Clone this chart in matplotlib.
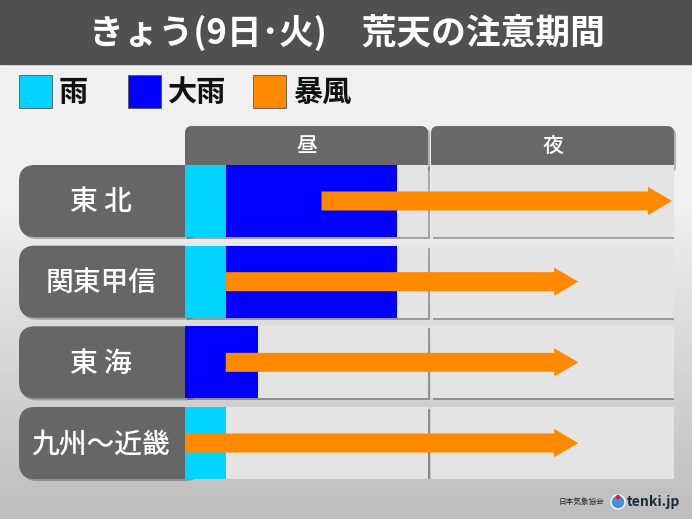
import matplotlib
matplotlib.use("Agg")
import matplotlib.pyplot as plt
import matplotlib.patheffects as pe
from matplotlib.patches import FancyBboxPatch, Rectangle, Circle
import numpy as np

plt.rcParams['font.family'] = ['Noto Sans CJK JP', 'DejaVu Sans']

# データ (時間: 0-12 = 昼, 12-24 = 夜)
title = "きょう(9日･火)　荒天の注意期間"
columns = ["昼", "夜"]
regions = ["東 北", "関東甲信", "東 海", "九州～近畿"]
rain = [(0, 2.0), (0, 2.0), None, (0, 2.0)]            # 雨
heavy_rain = [(2.0, 10.4), (2.0, 10.4), (0, 3.6), None]  # 大雨
storm = [(6.7, 23.9), (2.0, 19.3), (2.0, 19.3), (0, 19.3)]  # 暴風
legend_labels = ["雨", "大雨", "暴風"]

c_rain = "#00d4ff"
c_heavy = "#0000ff"
c_storm = "#ff8a00"
c_dark = "#666666"

fig = plt.figure(figsize=(6.92, 5.19), dpi=100)

# 背景 (ピクセル座標)
bg = fig.add_axes([0, 0, 1, 1])
bg.set_xlim(0, 692)
bg.set_ylim(519, 0)
bg.axis("off")
grad = np.concatenate([np.full(200, 0.94), np.linspace(0.94, 0.74, 319)])
bg.imshow(np.tile(grad[:, None], (1, 2)), cmap="gray", vmin=0, vmax=1,
          extent=[0, 692, 519, 0], aspect="auto", zorder=0)

# タイトルバー
bg.add_patch(Rectangle((0, 0), 692, 64, color="#505050", zorder=1))
bg.text(347, 33, title, color="white", fontsize=25, fontweight="bold",
        ha="center", va="center", zorder=2)

# 凡例
leg_x = [19, 128, 253]
for x, lab, col in zip(leg_x, legend_labels, [c_rain, c_heavy, c_storm]):
    bg.add_patch(Rectangle((x, 75), 33, 33, facecolor=col, edgecolor="#555555",
                           lw=0.6, zorder=2))
    bg.text(x + 40, 92, lab, fontsize=21, fontweight="bold", color="#111111",
            ha="left", va="center", zorder=2)

# 見出し (昼・夜)
shadow = [pe.SimplePatchShadow(offset=(1.5, -1.5), shadow_rgbFace="k", alpha=0.25), pe.Normal()]
for x0, x1, lab in [(185, 428, columns[0]), (431, 674, columns[1])]:
    bg.add_patch(FancyBboxPatch((x0, 126), x1 - x0, 45,
                                boxstyle="round,pad=0,rounding_size=7",
                                facecolor="#686868", edgecolor="none", zorder=2,
                                path_effects=shadow))
    bg.text((x0 + x1) / 2, 146, lab, color="white", fontsize=15, fontweight="medium",
            ha="center", va="center", zorder=3)

# 地域ラベル
row_tops = [165, 245.7, 326.3, 407]
for top, name in zip(row_tops, regions):
    bg.add_patch(FancyBboxPatch((19, top), 180, 72,
                                boxstyle="round,pad=0,rounding_size=16",
                                facecolor=c_dark, edgecolor="none", zorder=2,
                                path_effects=shadow))
    bg.text(101, top + 37, name, color="white", fontsize=20, fontweight="medium",
            ha="center", va="center", zorder=3)

# 表 (時間軸)
ax = fig.add_axes([185 / 692, 1 - 479 / 519, 489 / 692, 314 / 519], zorder=5)
ax.set_facecolor("none")
ax.axis("off")
ax.set_xlim(0, 24)
ax.set_ylim(3.446, -0.446)

h = 0.8925
y = np.arange(len(regions))
cell_shadow = [pe.SimplePatchShadow(offset=(1.5, -1.5), shadow_rgbFace="k", alpha=0.3), pe.Normal()]
ax.barh(y, 11.93, left=0, height=h, color="#e4e4e4", zorder=1, path_effects=cell_shadow)
ax.barh(y, 11.93, left=12.07, height=h, color="#e4e4e4", zorder=1, path_effects=cell_shadow)

for i in range(len(regions)):
    if rain[i]:
        ax.barh(i, rain[i][1] - rain[i][0], left=rain[i][0], height=h, color=c_rain, zorder=2)
    if heavy_rain[i]:
        ax.barh(i, heavy_rain[i][1] - heavy_rain[i][0], left=heavy_rain[i][0],
                height=h, color=c_heavy, zorder=2)
    s0, s1 = storm[i]
    ax.arrow(s0, i, s1 - s0, 0, width=0.236, head_width=0.35, head_length=1.18,
             length_includes_head=True, color=c_storm, lw=0, zorder=3)

# クレジット
bg.text(604, 502, "日本気象協会", fontsize=5.5, color="#222222", ha="right", va="center", zorder=2)
bg.add_patch(Circle((618, 502), 7, facecolor="#4a90d9", edgecolor="white", lw=1, zorder=2))
bg.add_patch(Circle((618, 497), 2.2, facecolor="#e02020", zorder=3))
bg.text(627, 502, "tenki.jp", fontsize=10, fontweight="bold", color="#1a2a3a",
        ha="left", va="center", zorder=2)

fig.savefig("out.png", dpi=100)
